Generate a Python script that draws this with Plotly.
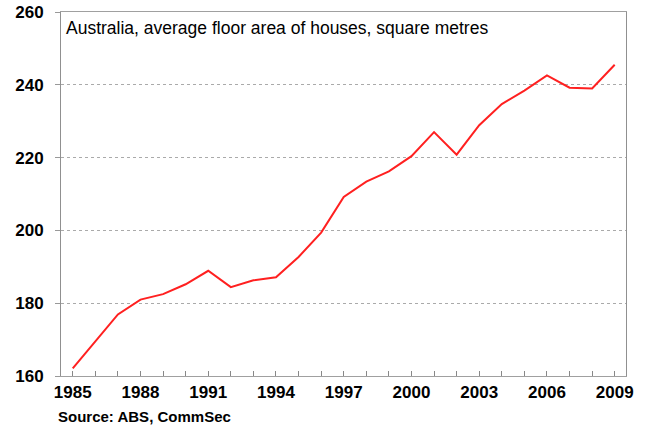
import plotly.graph_objects as go

years = list(range(1985, 2010))
floor_area = [162.1, 169.5, 176.9, 181.0, 182.5, 185.2, 188.9, 184.4, 186.3, 187.1,
              192.7, 199.4, 209.2, 213.4, 216.2, 220.4, 227.0, 220.8, 228.9, 234.7,
              238.4, 242.6, 239.2, 239.0, 245.5]
x_tick_vals = [1985, 1988, 1991, 1994, 1997, 2000, 2003, 2006, 2009]
y_tick_vals = [160, 180, 200, 220, 240, 260]

subtitle = "Australia, average floor area of houses, square metres"
source = "Source: ABS, CommSec"

fig = go.Figure()
fig.add_trace(go.Scatter(x=years, y=floor_area, mode="lines",
                         line=dict(color="#ff2020", width=2), hoverinfo="x+y"))

W, H = 647, 425
L, R, T, B = 61, 21, 12, 49
plot_w = W - L - R

FONT = "Liberation Sans, Arial, sans-serif"

fig.update_layout(
    width=W, height=H,
    margin=dict(l=L, r=R, t=T, b=B),
    paper_bgcolor="white", plot_bgcolor="white",
    showlegend=False,
    font=dict(family=FONT, color="black"),
    xaxis=dict(
        range=[1984.48, 2009.5], tickvals=x_tick_vals,
        ticktext=[str(v) for v in x_tick_vals],
        ticks="inside", ticklen=5, tickcolor="#888888", tickwidth=1,
        minor=dict(ticks="inside", ticklen=5, dtick=1, tick0=1985, tickcolor="#888888", showgrid=False),
        showgrid=False, zeroline=False, automargin=False,
        showline=True, linecolor="#a0a0a0", linewidth=1, mirror=True,
        tickfont=dict(size=17, family=FONT, weight="bold"),
        ticklabelstandoff=1, ticklabeloverflow="allow",
    ),
    yaxis=dict(
        range=[160, 260], tickvals=y_tick_vals,
        ticks="outside", ticklen=5, tickcolor="#999999",
        showgrid=True, gridcolor="#aaaaaa", griddash="dot", gridwidth=1,
        zeroline=False, automargin=False,
        showline=True, linecolor="#909090", linewidth=1, mirror=True,
        tickfont=dict(size=17, family=FONT, weight="bold"),
        ticklabelstandoff=8, ticklabeloverflow="allow",
    ),
    annotations=[
        dict(text=subtitle, xref="paper", yref="paper", x=3 / plot_w, y=1,
             xanchor="left", yanchor="top", yshift=-4, showarrow=False,
             font=dict(size=17.5, family=FONT, color="black")),
        dict(text="<b>" + source + "</b>", xref="paper", yref="paper", x=-5 / plot_w, y=0,
             xanchor="left", yanchor="middle", yshift=-40, showarrow=False,
             font=dict(size=15, family=FONT, color="black")),
    ],
)

fig.write_html("out.html",
               config={"displayModeBar": False},
               post_script="document.body.style.margin='0';document.body.style.padding='0';")
